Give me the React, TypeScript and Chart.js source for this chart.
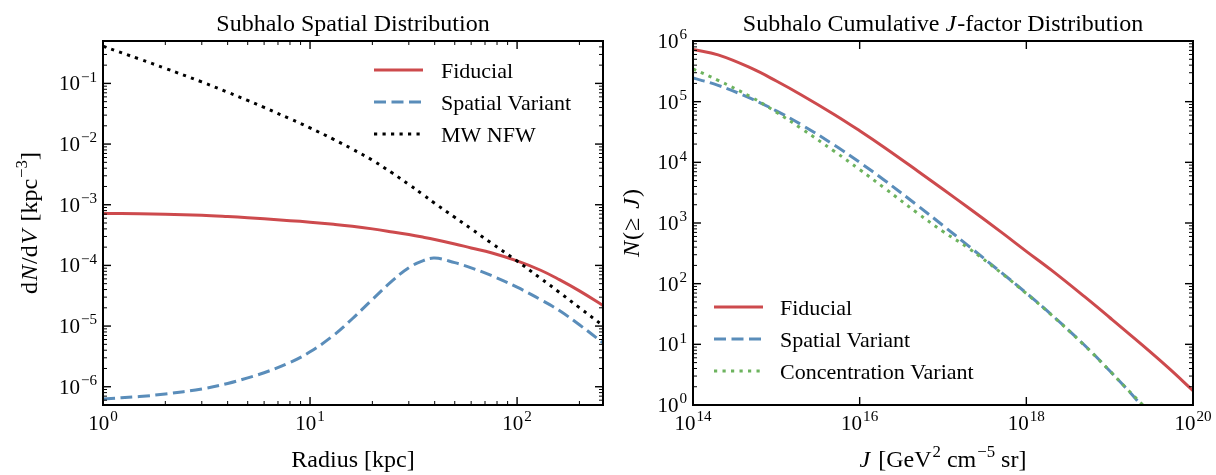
import React, { useEffect, useRef } from "react";
import { Chart, registerables } from "chart.js";

Chart.register(...registerables);

// ---------------- data: left panel (spatial distribution) ----------------
const radiusKpc = [1, 1.5, 2, 3, 4, 5, 6, 8, 10, 13, 16, 20, 25, 30, 35, 40, 50, 60, 75, 100, 130, 160, 200, 260];
const fiducialDensity = [7.19e-4, 7.08e-4, 6.95e-4, 6.68e-4, 6.38e-4, 6.11e-4, 5.86e-4, 5.47e-4, 5.16e-4, 4.76e-4, 4.42e-4, 4.0e-4, 3.56e-4, 3.22e-4, 2.93e-4, 2.68e-4, 2.26e-4, 1.94e-4, 1.62e-4, 1.19e-4, 8.32e-5, 5.82e-5, 3.8e-5, 2.19e-5];
const spatialDensity = [6.3e-7, 6.9e-7, 7.6e-7, 9.2e-7, 1.13e-6, 1.4e-6, 1.7e-6, 2.51e-6, 3.76e-6, 7.06e-6, 1.32e-5, 2.75e-5, 5.61e-5, 9.16e-5, 1.19e-4, 1.32e-4, 1.11e-4, 9.12e-5, 6.82e-5, 4.37e-5, 2.72e-5, 1.8e-5, 1.05e-5, 5.3e-6];
const nfwDensity = [0.41, 0.252, 0.177, 0.1057, 0.0716, 0.0524, 0.0402, 0.0261, 0.01845, 0.01197, 0.00828, 0.00542, 0.00332, 0.00216, 0.00148, 0.00106, 6.21e-4, 4.01e-4, 2.34e-4, 1.18e-4, 6.11e-5, 3.6e-5, 2.01e-5, 1.02e-5];

// ---------------- data: right panel (cumulative J-factor) ----------------
const jFiducial = [1e14, 2e14, 5e14, 1e15, 2e15, 5e15, 1e16, 2e16, 5e16, 1e17, 2e17, 5e17, 1e18, 2e18, 5e18, 1e19, 2e19, 5e19, 1e20];
const nFiducial = [7.24e5, 5.89e5, 3.56e5, 2.19e5, 1.29e5, 6.1e4, 3.31e4, 1.74e4, 7.14e3, 3.6e3, 1.8e3, 706, 341, 167, 61.0, 27.7, 12.4, 4.16, 1.72];
const jSpatial = [1e14, 2e14, 5e14, 1e15, 2e15, 5e15, 1e16, 2e16, 5e16, 1e17, 2e17, 5e17, 1e18, 2e18, 5e18, 1e19, 1.6e19, 2.35e19, 2.8e19];
const nSpatial = [2.45e5, 1.86e5, 1.12e5, 7.06e4, 4.17e4, 1.91e4, 1.0e4, 5.02e3, 1.92e3, 908, 424, 153, 70.0, 30.9, 9.66, 3.66, 1.85, 1.02, 0.76];
const jConcentration = [1e14, 2e14, 5e14, 1e15, 2e15, 5e15, 1e16, 2e16, 5e16, 1e17, 2e17, 5e17, 1e18, 2e18, 5e18, 1e19, 1.6e19, 2.5e19, 3.2e19];
const nConcentration = [3.47e5, 2.25e5, 1.19e5, 6.71e4, 3.6e4, 1.51e4, 7.59e3, 3.74e3, 1.44e3, 724, 389, 150, 68.9, 30.5, 9.55, 3.67, 1.86, 1.0, 0.68];

// ---------------- tick labels (powers of ten) ----------------
const leftXTicks = [1, 10, 100];
const leftYTicks = [1e-6, 1e-5, 1e-4, 1e-3, 1e-2, 1e-1];
const rightXTicks = [1e14, 1e16, 1e18, 1e20];
const rightYTicks = [1, 10, 100, 1e3, 1e4, 1e5, 1e6];

const RED = "#cd4a4d";
const BLUE = "#5a8dba";
const GREEN = "#6db35e";
const BLACK = "#000000";
const FONT = '"Liberation Serif", "Times New Roman", serif';
const DASH = [12, 5.5];
const DOT = [3.2, 5.3];
const TICK_SIZE = 21;

function exponentText(v: number): string {
  const e = Math.round(Math.log10(v));
  return e < 0 ? "\u2212" + String(-e) : String(e);
}

type Seg = { t: string; it?: boolean; sup?: boolean; gap?: number };
function fontOf(s: Seg, size: number, supScale: number) {
  return `${s.it ? "italic " : ""}${s.sup ? size * supScale : size}px ${FONT}`;
}
// align: 0 = centered, 1 = right aligned at x
function drawRich(
  ctx: CanvasRenderingContext2D,
  segs: Seg[],
  x: number,
  y: number,
  size: number,
  opts: { rotate?: boolean; align?: number; supScale?: number; supRise?: number } = {}
) {
  const supScale = opts.supScale ?? 0.7;
  const supRise = opts.supRise ?? 0.4;
  ctx.save();
  ctx.translate(x, y);
  if (opts.rotate) ctx.rotate(-Math.PI / 2);
  const widths = segs.map((s) => {
    ctx.font = fontOf(s, size, supScale);
    return ctx.measureText(s.t).width + (s.gap ?? 0);
  });
  const total = widths.reduce((a, b) => a + b, 0);
  let cx = opts.align === 1 ? -total : -total / 2;
  ctx.fillStyle = "#000";
  ctx.textAlign = "left";
  ctx.textBaseline = "alphabetic";
  segs.forEach((s, i) => {
    ctx.font = fontOf(s, size, supScale);
    ctx.fillText(s.t, cx + (s.gap ?? 0), s.sup ? -size * supRise : 0);
    cx += widths[i];
  });
  ctx.restore();
}

type LegendItem = { label: string; color: string; dash: number[] };
type Decor = {
  xMinor: boolean;
  yMinor: boolean;
  title: Seg[];
  xTitle: Seg[];
  yTitle: Seg[];
  yTitleX: number;
  legend: LegendItem[];
  legendX0: number;
  legendX1: number;
  legendTextX: number;
  legendY0: number;
  legendDy: number;
};

function minorValues(min: number, max: number): number[] {
  const out: number[] = [];
  const e0 = Math.floor(Math.log10(min));
  const e1 = Math.ceil(Math.log10(max));
  for (let e = e0; e <= e1; e++) {
    const base = Math.pow(10, e);
    for (let k = 2; k <= 9; k++) {
      const v = k * base;
      if (v >= min && v <= max) out.push(v);
    }
  }
  return out;
}

function tickLabel(v: number): Seg[] {
  return [{ t: "10" }, { t: exponentText(v), sup: true, gap: 1 }];
}

function decorPlugin(d: Decor) {
  return {
    id: "decor",
    afterDraw(chart: any) {
      const { ctx, chartArea: a, scales } = chart;
      const xs = scales.x;
      const ys = scales.y;
      const xMajors: number[] = xs.ticks.map((t: any) => t.value);
      const yMajors: number[] = ys.ticks.map((t: any) => t.value);
      ctx.save();
      ctx.strokeStyle = "#000";
      const tick = (x1: number, y1: number, x2: number, y2: number, w: number) => {
        ctx.lineWidth = w;
        ctx.beginPath();
        ctx.moveTo(x1, y1);
        ctx.lineTo(x2, y2);
        ctx.stroke();
      };
      const MAJ = 8;
      const MIN = 4;
      const xMinors = d.xMinor ? minorValues(xs.min, xs.max) : [];
      const yMinors = d.yMinor ? minorValues(ys.min, ys.max) : [];
      xMajors.forEach((v) => {
        const p = xs.getPixelForValue(v);
        tick(p, a.bottom, p, a.bottom - MAJ, 1.4);
        tick(p, a.top, p, a.top + MAJ, 1.4);
      });
      xMinors.forEach((v) => {
        const p = xs.getPixelForValue(v);
        tick(p, a.bottom, p, a.bottom - MIN, 1);
        tick(p, a.top, p, a.top + MIN, 1);
      });
      yMajors.forEach((v) => {
        const p = ys.getPixelForValue(v);
        tick(a.left, p, a.left + MAJ, p, 1.4);
        tick(a.right, p, a.right - MAJ, p, 1.4);
      });
      yMinors.forEach((v) => {
        const p = ys.getPixelForValue(v);
        tick(a.left, p, a.left + MIN, p, 1);
        tick(a.right, p, a.right - MIN, p, 1);
      });
      ctx.lineWidth = 2;
      ctx.strokeRect(a.left, a.top, a.right - a.left, a.bottom - a.top);

      // tick labels: 10 with a raised exponent
      xMajors.forEach((v) => {
        const p = xs.getPixelForValue(v);
        drawRich(ctx, tickLabel(v), p, a.bottom + 25, TICK_SIZE, { supScale: 0.72, supRise: 0.42 });
      });
      yMajors.forEach((v) => {
        const p = ys.getPixelForValue(v);
        drawRich(ctx, tickLabel(v), a.left - 6, p + 7, TICK_SIZE, { align: 1, supScale: 0.72, supRise: 0.42 });
      });

      // legend
      d.legend.forEach((it, i) => {
        const y = d.legendY0 + i * d.legendDy;
        ctx.save();
        ctx.strokeStyle = it.color;
        ctx.lineWidth = 3;
        ctx.lineCap = "butt";
        ctx.setLineDash(it.dash);
        ctx.beginPath();
        ctx.moveTo(d.legendX0, y);
        ctx.lineTo(d.legendX1, y);
        ctx.stroke();
        ctx.restore();
        ctx.fillStyle = "#000";
        ctx.font = `22px ${FONT}`;
        ctx.textAlign = "left";
        ctx.textBaseline = "alphabetic";
        ctx.fillText(it.label, d.legendTextX, y + 7.5);
      });
      ctx.restore();

      const cxm = (a.left + a.right) / 2;
      const cym = (a.top + a.bottom) / 2;
      drawRich(ctx, d.title, cxm, 31, 24);
      drawRich(ctx, d.xTitle, cxm, 467, 24);
      drawRich(ctx, d.yTitle, d.yTitleX, cym, 24, { rotate: true });
    },
  };
}

function lineDs(label: string, xs: number[], ys: number[], color: string, dash: number[], order: number) {
  return {
    label,
    data: xs.map((x, i) => ({ x, y: ys[i] })),
    borderColor: color,
    backgroundColor: color,
    borderWidth: 3,
    borderDash: dash,
    borderCapStyle: "butt" as const,
    borderJoinStyle: "round" as const,
    pointRadius: 0,
    fill: false,
    tension: 0.4,
    capBezierPoints: false,
    clip: 0,
    order,
  };
}

function axis(min: number, max: number, ticks: number[], fit: (s: any) => void) {
  return {
    type: "logarithmic" as const,
    min,
    max,
    grid: { display: false },
    border: { display: false },
    ticks: {
      display: false,
      autoSkip: false,
      maxRotation: 0,
    },
    afterBuildTicks: (s: any) => {
      s.ticks = ticks.map((v) => ({ value: v }));
    },
    afterFit: fit,
  };
}

function baseOptions(padRight: number, x: any, y: any) {
  return {
    responsive: false,
    animation: false,
    devicePixelRatio: 1,
    layout: { padding: { top: 41, right: padRight, left: 0, bottom: 0 } },
    plugins: { legend: { display: false }, tooltip: { enabled: false }, title: { display: false } },
    scales: { x, y },
  };
}

function leftConfig(): any {
  const decor: Decor = {
    xMinor: true,
    yMinor: true,
    title: [{ t: "Subhalo Spatial Distribution" }],
    xTitle: [{ t: "Radius [kpc]" }],
    yTitle: [
      { t: "d" },
      { t: "N", it: true, gap: 1 },
      { t: "/d", gap: 1 },
      { t: "V", it: true, gap: 1 },
      { t: " [kpc", gap: 2 },
      { t: "\u22123", sup: true, gap: 1 },
      { t: "]" },
    ],
    yTitleX: 37,
    legend: [
      { label: "Fiducial", color: RED, dash: [] },
      { label: "Spatial Variant", color: BLUE, dash: DASH },
      { label: "MW NFW", color: BLACK, dash: DOT },
    ],
    legendX0: 374,
    legendX1: 423,
    legendTextX: 441,
    legendY0: 70,
    legendDy: 32,
  };
  return {
    type: "line",
    data: {
      datasets: [
        lineDs("Fiducial", radiusKpc, fiducialDensity, RED, [], 3),
        lineDs("Spatial Variant", radiusKpc, spatialDensity, BLUE, DASH, 2),
        lineDs("MW NFW", radiusKpc, nfwDensity, BLACK, DOT, 1),
      ],
    },
    options: baseOptions(
      5,
      axis(1, 260, leftXTicks, (s: any) => {
        s.height = 70;
        s.paddingLeft = 0;
        s.paddingRight = 0;
      }),
      axis(5e-7, 0.5, leftYTicks, (s: any) => {
        s.width = 103;
        s.paddingTop = 0;
        s.paddingBottom = 0;
      })
    ),
    plugins: [decorPlugin(decor)],
  };
}

function rightConfig(): any {
  const decor: Decor = {
    xMinor: false,
    yMinor: true,
    title: [{ t: "Subhalo Cumulative " }, { t: "J", it: true }, { t: "-factor Distribution", gap: 1 }],
    xTitle: [{ t: "J", it: true }, { t: " [GeV", gap: 2 }, { t: "2", sup: true, gap: 1 }, { t: " cm" }, { t: "\u22125", sup: true, gap: 1 }, { t: " sr]" }],
    yTitle: [{ t: "N", it: true }, { t: "(", gap: 1 }, { t: "\u2265", gap: 1 }, { t: " " }, { t: "J", it: true, gap: 3 }, { t: ")", gap: 1 }],
    yTitleX: 31,
    legend: [
      { label: "Fiducial", color: RED, dash: [] },
      { label: "Spatial Variant", color: BLUE, dash: DASH },
      { label: "Concentration Variant", color: GREEN, dash: DOT },
    ],
    legendX0: 106,
    legendX1: 155,
    legendTextX: 172,
    legendY0: 307,
    legendDy: 32,
  };
  return {
    type: "line",
    data: {
      datasets: [
        lineDs("Fiducial", jFiducial, nFiducial, RED, [], 3),
        lineDs("Spatial Variant", jSpatial, nSpatial, BLUE, DASH, 2),
        lineDs("Concentration Variant", jConcentration, nConcentration, GREEN, DOT, 1),
      ],
    },
    options: baseOptions(
      23,
      axis(1e14, 1e20, rightXTicks, (s: any) => {
        s.height = 70;
        s.paddingLeft = 0;
        s.paddingRight = 0;
      }),
      axis(1, 1e6, rightYTicks, (s: any) => {
        s.width = 85;
        s.paddingTop = 0;
        s.paddingBottom = 0;
      })
    ),
    plugins: [decorPlugin(decor)],
  };
}

export default function App() {
  const leftRef = useRef<HTMLCanvasElement>(null);
  const rightRef = useRef<HTMLCanvasElement>(null);
  useEffect(() => {
    const c1 = new Chart(leftRef.current as HTMLCanvasElement, leftConfig());
    const c2 = new Chart(rightRef.current as HTMLCanvasElement, rightConfig());
    return () => {
      c1.destroy();
      c2.destroy();
    };
  }, []);
  return (
    <div style={{ position: "fixed", left: 0, top: 0, width: 1216, height: 475, background: "#fff" }}>
      <canvas ref={leftRef} width={608} height={475} style={{ position: "absolute", left: 0, top: 0, width: 608, height: 475 }} />
      <canvas ref={rightRef} width={608} height={475} style={{ position: "absolute", left: 608, top: 0, width: 608, height: 475 }} />
    </div>
  );
}
